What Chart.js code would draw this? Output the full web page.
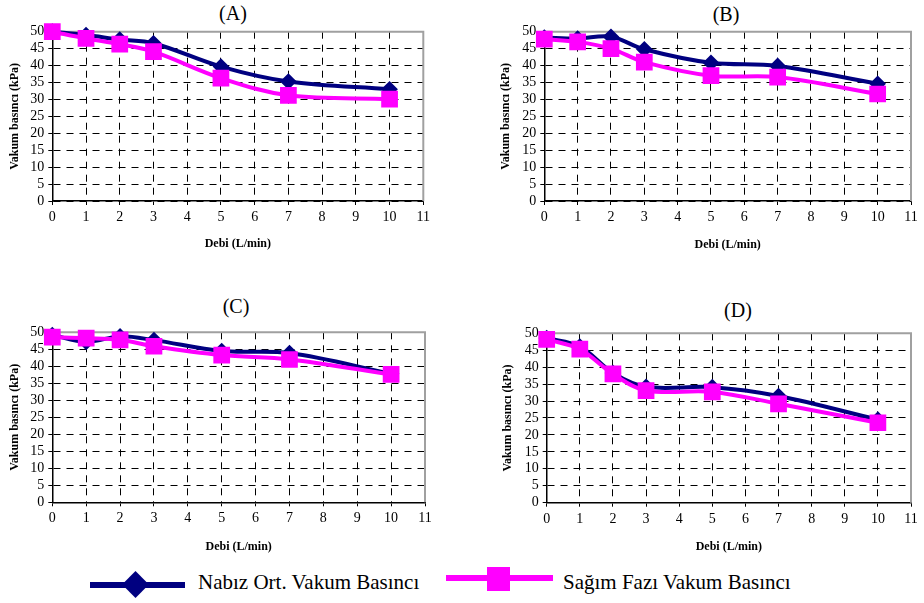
<!DOCTYPE html>
<html>
<head>
<meta charset="utf-8">
<script src="https://cdn.jsdelivr.net/npm/chart.js@4.4.0/dist/chart.umd.min.js"></script>
<style>
  body { margin: 0; background: #fff; width: 924px; height: 603px; position: relative; overflow: hidden;
         font-family: 'Liberation Serif', 'Times New Roman', serif; color: #000; }
  .box { position: absolute; }
  .ptitle { position: absolute; width: 80px; text-align: center; font-size: 20px; line-height: 20px; }
  .leg-text { position: absolute; font-size: 21px; line-height: 21px; white-space: nowrap; }
</style>
</head>
<body>

<div class="box" style="left:90px;top:582px;width:95px;height:6px;background:#000080"></div>
<div class="box" style="left:126px;top:575px;width:19px;height:19px;background:#000080;transform:rotate(45deg)"></div>
<div class="leg-text" id="leg1" style="left:198px;top:572px"></div>

<div class="box" style="left:446px;top:575px;width:107px;height:6px;background:#ff00ff"></div>
<div class="box" style="left:487px;top:567px;width:23px;height:24px;background:#ff00ff"></div>
<div class="leg-text" id="leg2" style="left:563px;top:572px"></div>

<script>
// flow rate (x) shared by all four panels
var debi = [0, 1, 2, 3, 5, 7, 10];

var nabizA = [50, 49, 47.7, 46.6, 39.7, 35.3, 33];
var sagimA = [50, 48, 46.3, 44.1, 36.3, 31.2, 30.1];

var nabizB = [48.3, 48, 48.5, 44.8, 40.8, 39.9, 34.6];
var sagimB = [47.8, 47, 45, 41, 37, 36.6, 31.6];

var nabizC = [49.2, 47.2, 48.8, 47.7, 44.5, 43.9, 37.8];
var sagimC = [48.6, 48.3, 47.8, 45.9, 43.3, 42, 37.6];

var nabizD = [48.6, 46.1, 38.3, 34.2, 34.1, 31.5, 24.5];
var sagimD = [48.2, 45.3, 38, 33.1, 32.7, 29.2, 23.6];

var xMax = 11, xStep = 1;
var yMax = 50, yStep = 5;

var seriesNames = ['Nabız Ort. Vakum Basıncı', 'Sağım Fazı Vakum Basıncı'];
var panelNames = ['(A)', '(B)', '(C)', '(D)'];
var xTitle = 'Debi (L/min)';
var yTitle = 'Vakum basıncı (kPa)';

Chart.defaults.font.family = "'Liberation Serif', 'Times New Roman', serif";
Chart.defaults.color = '#000';

document.getElementById('leg1').textContent = seriesNames[0];
document.getElementById('leg2').textContent = seriesNames[1];

// grey top/right edge of the plot box, like the spreadsheet frame
var frame = {
  id: 'frame',
  beforeDatasetsDraw: function(chart) {
    var a = chart.chartArea, c = chart.ctx;
    c.save();
    c.strokeStyle = '#a0a0a0';
    c.lineWidth = 2;
    c.beginPath();
    c.moveTo(a.left, a.top);
    c.lineTo(a.right, a.top);
    c.lineTo(a.right, a.bottom);
    c.stroke();
    c.restore();
  }
};

function pts(vals) {
  return debi.map(function(d, i) { return { x: d, y: vals[i] }; });
}

function axis(max, step, title, titlePad, fit) {
  return {
    type: 'linear', min: 0, max: max,
    ticks: { stepSize: step, autoSkip: false, maxRotation: 0, padding: 4, font: { size: 14 }, color: '#000' },
    grid: {
      color: function(c) { return c.tick && c.tick.value === max ? 'rgba(0,0,0,0)' : '#000'; },
      lineWidth: 1, tickLength: 4, tickColor: '#000', tickBorderDash: []
    },
    // in v4 the grid line dash lives under border
    border: { color: '#000', width: 1.5, dash: [7, 6] },
    title: { display: true, text: title, color: '#000', font: { size: 12, weight: 'bold' }, padding: titlePad },
    afterFit: fit
  };
}

function makePanel(p) {
  var t = document.createElement('div');
  t.className = 'ptitle';
  t.textContent = p.name;
  t.style.left = (p.tx - 40) + 'px';
  t.style.top = (p.ty - 10) + 'px';
  document.body.appendChild(t);

  var wrap = document.createElement('div');
  wrap.className = 'box';
  wrap.style.left = p.left + 'px';
  wrap.style.top = p.top + 'px';
  wrap.style.width = p.w + 'px';
  wrap.style.height = p.h + 'px';
  var cv = document.createElement('canvas');
  wrap.appendChild(cv);
  document.body.appendChild(wrap);

  new Chart(cv, {
    type: 'line',
    data: {
      datasets: [
        { label: seriesNames[0], data: pts(p.nabiz), borderColor: '#000080', backgroundColor: '#000080',
          borderWidth: 4, pointStyle: 'rectRot', pointRadius: 5.5, tension: 0.35, clip: false, order: 2 },
        { label: seriesNames[1], data: pts(p.sagim), borderColor: '#ff00ff', backgroundColor: '#ff00ff',
          borderWidth: 4, pointStyle: 'rect', pointRadius: 9, tension: 0.35, clip: false, order: 1 }
      ]
    },
    options: {
      responsive: true, maintainAspectRatio: false, animation: false,
      layout: { padding: { left: 0, top: p.padTop, right: p.padRight, bottom: 0 } },
      plugins: { legend: { display: false }, tooltip: { enabled: false } },
      scales: {
        x: axis(xMax, xStep, xTitle, { top: 0, bottom: 2 }, function(s) { s.height = p.xH; }),
        y: axis(yMax, yStep, yTitle, { top: 2, bottom: 0 }, function(s) { s.width = p.yW; })
      }
    },
    plugins: [frame]
  });
}

makePanel({ name: panelNames[0], nabiz: nabizA, sagim: sagimA, tx: 233, ty: 12.5,
  left: 6, top: 0, w: 434, h: 253, padTop: 31.7, padRight: 16.7, yW: 46.3, xH: 52 });
makePanel({ name: panelNames[1], nabiz: nabizB, sagim: sagimB, tx: 726, ty: 13.5,
  left: 497, top: 0, w: 427, h: 254, padTop: 31.7, padRight: 9, yW: 47.3, xH: 53 });
makePanel({ name: panelNames[2], nabiz: nabizC, sagim: sagimC, tx: 236, ty: 305.5,
  left: 6, top: 300, w: 434, h: 256, padTop: 32.3, padRight: 15, yW: 46.3, xH: 53.7 });
makePanel({ name: panelNames[3], nabiz: nabizD, sagim: sagimD, tx: 738, ty: 310,
  left: 499, top: 300, w: 425, h: 256, padTop: 33.3, padRight: 6, yW: 47.7, xH: 53.3 });
</script>
</body>
</html>
